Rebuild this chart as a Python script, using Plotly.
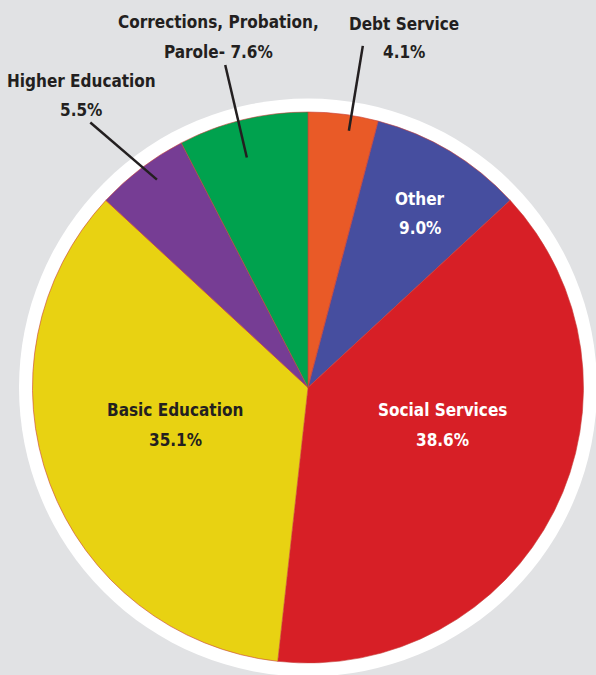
import math
import plotly.graph_objects as go

# ---- data ----
labels = ["Debt Service", "Other", "Social Services", "Basic Education",
          "Higher Education", "Corrections, Probation, Parole"]
values = [4.1, 9.0, 38.6, 35.1, 5.5, 7.6]
colors = ["#E95A27", "#464E9F", "#D71F26", "#E8D212", "#763D94", "#00A24E"]
line1 = ["Debt Service", "Other", "Social Services", "Basic Education",
         "Higher Education", "Corrections, Probation,"]
line2_prefix = ["", "", "", "", "", "Parole- "]
text_colors = ["#231F20", "#FFFFFF", "#FFFFFF", "#231F20", "#231F20", "#231F20"]

# ---- layout geometry (pixels) ----
W, H = 596, 675
CX, CY, R = 308, 387.5, 275.5
RING = 13.5
BG = "#E1E2E4"
FONT = "DejaVu Sans Condensed, Liberation Sans Narrow, sans-serif"
FSIZE = 17

# label block centres (pixels)
label_pos = [(404, 38), (420, 213), (442, 425), (175, 425), (81, 95), (218, 37)]
# leader settings: (inner angle offset, inner r, outer angle offset, outer r)
leaders = {0: (1.66, 260, 1.73, 346),
           4: (1.3, 257, -2.1, 343),
           5: (-1.2, 238, -0.7, 333)}
LINE_GAP = 29


def px(x):
    return x / W


def py(y):
    return 1 - y / H


fig = go.Figure()
fig.add_trace(go.Pie(
    labels=labels, values=values, sort=False, direction="clockwise", rotation=0,
    marker=dict(colors=colors, line=dict(width=0.6, color="#C8403A")),
    textinfo="none", hoverinfo="label+percent", showlegend=False,
    domain=dict(x=[px(CX - R), px(CX + R)], y=[py(CY + R), py(CY - R)]),
))

shapes = [dict(type="circle", layer="below", xref="paper", yref="paper",
               x0=px(CX - R - RING), x1=px(CX + R + RING),
               y0=py(CY + R + RING), y1=py(CY - R - RING),
               fillcolor="#FFFFFF", line=dict(width=0))]

total = sum(values)
cum = 0
annotations = []
for i, v in enumerate(values):
    mid = (cum + v / 2) / total * 360
    cum += v
    lx, ly = label_pos[i]
    for k, t in enumerate([line1[i], f"{line2_prefix[i]}{v:.1f}%"]):
        annotations.append(dict(
            x=px(lx), y=py(ly + (k - 0.5) * LINE_GAP), xref="paper", yref="paper",
            text=t, showarrow=False, xanchor="center", yanchor="middle",
            font=dict(family=FONT, size=FSIZE, color=text_colors[i], weight="bold")))
    if i in leaders:
        o_in, r_in, o_out, r_out = leaders[i]
        a0 = math.radians(mid + o_in)
        a1 = math.radians(mid + o_out)
        x0, y0 = CX + r_in * math.sin(a0), CY - r_in * math.cos(a0)
        x1, y1 = CX + r_out * math.sin(a1), CY - r_out * math.cos(a1)
        shapes.append(dict(type="line", xref="paper", yref="paper",
                           x0=px(x0), y0=py(y0), x1=px(x1), y1=py(y1),
                           line=dict(color="#231F20", width=2.5)))

fig.update_layout(
    width=W, height=H, margin=dict(l=0, r=0, t=0, b=0),
    paper_bgcolor=BG, plot_bgcolor=BG,
    shapes=shapes, annotations=annotations,
)
fig.write_html("out.html")
